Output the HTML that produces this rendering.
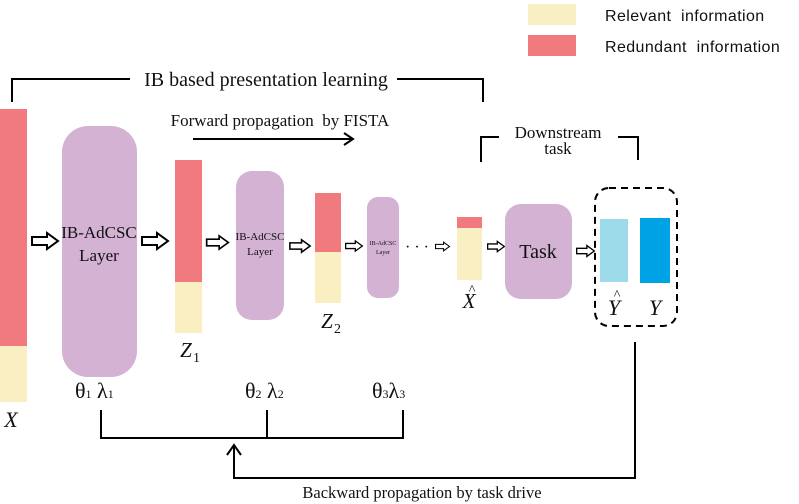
<!DOCTYPE html>
<html><head><meta charset="utf-8"><style>
body{margin:0;background:#fff}
svg{display:block}
.s{font-family:"Liberation Serif",serif;fill:#111}
.a{font-family:"Liberation Sans","DejaVu Sans",sans-serif;fill:#111}
</style></head><body>
<svg width="799" height="504" viewBox="0 0 799 504" xmlns="http://www.w3.org/2000/svg">
<defs>
<symbol id="ha" viewBox="0 0 28 18" overflow="visible">
<path d="M1,5 H16 V1 L27,9 L16,17 V13 H1 Z" fill="#fff" stroke="#000" stroke-width="2" stroke-linejoin="miter"/>
</symbol>
</defs>
<rect x="528" y="4" width="48" height="21" fill="#faefc3"/>
<rect x="528" y="35" width="48" height="21" fill="#f07a7d"/>
<text x="605" y="21" class="a" font-size="16" letter-spacing="0.4">Relevant&#160; information</text>
<text x="605" y="52" class="a" font-size="16" letter-spacing="0.4">Redundant&#160; information</text>
<path d="M12,102 V79 H130 M397,79 H483 V102" fill="none" stroke="#000" stroke-width="2"/>
<text x="266" y="86" class="s" font-size="20" text-anchor="middle">IB based presentation learning</text>
<text x="280" y="126" class="s" font-size="17" text-anchor="middle">Forward propagation&#160; by FISTA</text>
<path d="M193,139 H353 M344,133 L353,139 L344,145" fill="none" stroke="#000" stroke-width="2"/>
<rect x="0" y="109" width="27" height="237" fill="#f07a7d"/>
<rect x="0" y="346" width="27" height="56" fill="#faefc3"/>
<text x="11" y="427" class="s" font-size="22" font-style="italic" text-anchor="middle">X</text>
<use href="#ha" x="31" y="232" width="28" height="18"/>
<rect x="62" y="126" width="75" height="251" rx="26" fill="#d3b2d3"/>
<text x="99" y="238" class="s" font-size="17" text-anchor="middle">IB-AdCSC</text>
<text x="99" y="261" class="s" font-size="17" text-anchor="middle">Layer</text>
<use href="#ha" x="141" y="232" width="28" height="18"/>
<rect x="175" y="160" width="27" height="122" fill="#f07a7d"/>
<rect x="175" y="282" width="27" height="51" fill="#faefc3"/>
<text x="186" y="357" class="s" font-size="21" font-style="italic" text-anchor="middle">Z</text>
<text x="193" y="362" class="s" font-size="14">1</text>
<use href="#ha" x="205" y="235" width="25" height="15"/>
<rect x="236" y="171" width="48" height="149" rx="16" fill="#d3b2d3"/>
<text x="260" y="240" class="s" font-size="11" text-anchor="middle">IB-AdCSC</text>
<text x="260" y="255" class="s" font-size="11" text-anchor="middle">Layer</text>
<use href="#ha" x="288" y="239" width="24" height="14"/>
<rect x="315" y="193" width="26" height="59" fill="#f07a7d"/>
<rect x="315" y="252" width="26" height="51" fill="#faefc3"/>
<text x="327" y="328" class="s" font-size="21" font-style="italic" text-anchor="middle">Z</text>
<text x="334" y="333" class="s" font-size="14">2</text>
<use href="#ha" x="345" y="240" width="18" height="12"/>
<rect x="367" y="197" width="32" height="101" rx="11" fill="#d3b2d3"/>
<text x="383" y="245" class="s" font-size="6" text-anchor="middle">IB-AdCSC</text>
<text x="383" y="254" class="s" font-size="6" text-anchor="middle">Layer</text>
<text x="405" y="252" class="s" font-size="16">· · ·</text>
<use href="#ha" x="435" y="241" width="15" height="11"/>
<rect x="457" y="217" width="25" height="11" fill="#f07a7d"/>
<rect x="457" y="228" width="25" height="52" fill="#faefc3"/>
<text x="469" y="308" class="s" font-size="21" font-style="italic" text-anchor="middle">X</text>
<text x="472" y="294" class="s" font-size="14" text-anchor="middle">^</text>
<use href="#ha" x="487" y="240" width="18" height="13"/>
<rect x="505" y="204" width="67" height="95" rx="16" fill="#d3b2d3"/>
<text x="538" y="258" class="s" font-size="20" text-anchor="middle">Task</text>
<use href="#ha" x="576" y="244" width="19" height="14"/>
<path d="M481,162 V137 H499 M618,137 H638 V160" fill="none" stroke="#000" stroke-width="2"/>
<text x="558" y="138" class="s" font-size="17" text-anchor="middle">Downstream</text>
<text x="558" y="154" class="s" font-size="17" text-anchor="middle">task</text>
<rect x="595" y="188" width="82" height="138" rx="14" fill="none" stroke="#000" stroke-width="2" stroke-dasharray="7,5"/>
<rect x="600" y="219" width="28" height="63" fill="#9ddbea"/>
<rect x="640" y="218" width="30" height="65" fill="#00a2e6"/>
<text x="614" y="315" class="s" font-size="22" font-style="italic" text-anchor="middle">Y</text>
<text x="617" y="299" class="s" font-size="14" text-anchor="middle">^</text>
<text x="655" y="315" class="s" font-size="22" font-style="italic" text-anchor="middle">Y</text>
<text x="75" y="398" class="s" font-size="22">θ<tspan font-size="12">1</tspan> λ<tspan font-size="12">1</tspan></text>
<text x="245" y="398" class="s" font-size="22">θ<tspan font-size="12">2</tspan> λ<tspan font-size="12">2</tspan></text>
<text x="372" y="398" class="s" font-size="22">θ<tspan font-size="12">3</tspan>λ<tspan font-size="12">3</tspan></text>
<path d="M101,410 V438 H403 V410 M267,410 V438" fill="none" stroke="#000" stroke-width="2"/>
<path d="M234,445 V478 H635 V342 M227,455 L234,445 L241,455" fill="none" stroke="#000" stroke-width="2"/>
<text x="422" y="498" class="s" font-size="16.5" text-anchor="middle">Backward propagation by task drive</text>
</svg>
</body></html>
